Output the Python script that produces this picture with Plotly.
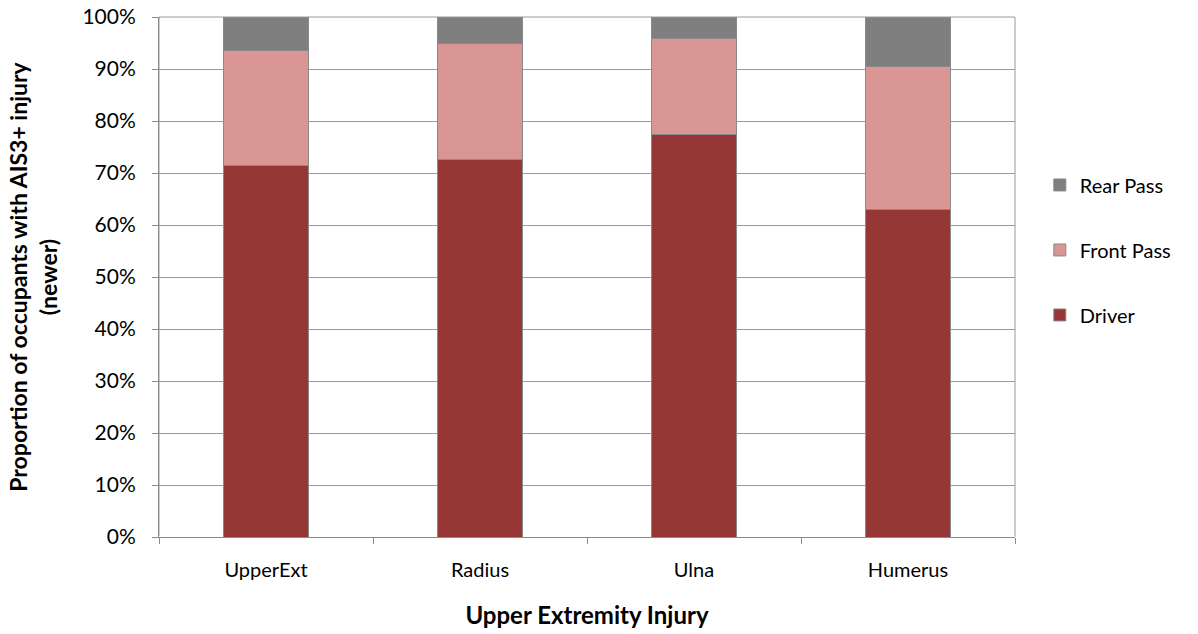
import plotly.graph_objects as go

categories = ["UpperExt", "Radius", "Ulna", "Humerus"]
driver = [71.4, 72.6, 77.5, 62.9]
front_pass = [22.1, 22.3, 18.4, 27.6]
rear_pass = [6.5, 5.1, 4.1, 9.5]
y_ticks = [0, 10, 20, 30, 40, 50, 60, 70, 80, 90, 100]
y_tick_labels = [f"{v}%" for v in y_ticks]

FONT = "Lato, 'Open Sans', sans-serif"
line = dict(color="#8a8a8a", width=1)

fig = go.Figure()
fig.add_trace(go.Bar(name="Driver", x=categories, y=driver, marker=dict(color="#953735", line=line),
                     legendgroup="a", legendrank=3))
fig.add_trace(go.Bar(name="Front Pass", x=categories, y=front_pass, marker=dict(color="#d99694", line=line),
                     legendgroup="b", legendrank=2))
fig.add_trace(go.Bar(name="Rear Pass", x=categories, y=rear_pass, marker=dict(color="#7f7f7f", line=line),
                     legendgroup="c", legendrank=1))

fig.update_layout(
    barmode="stack",
    bargap=0.6,
    width=1198, height=634,
    margin=dict(l=159, r=183, t=17, b=97, autoexpand=False),
    plot_bgcolor="white", paper_bgcolor="white",
    font=dict(family=FONT, size=20, color="black"),
    legend=dict(traceorder="grouped", x=1.029, y=0.552, yanchor="middle", xanchor="left",
                tracegroupgap=36, font=dict(size=20), itemwidth=30),
    xaxis=dict(title=dict(text="<b>Upper Extremity Injury</b>", font=dict(size=24), standoff=27),
               automargin=False,
               showline=True, linecolor="#8a8a8a", linewidth=1, mirror=False,
               ticks="outside", tickson="boundaries", ticklen=6, tickcolor="#8a8a8a",
               tickfont=dict(size=20), ticklabelstandoff=15),
    yaxis=dict(title=dict(text="<b>Proportion of occupants with AIS3+ injury<br>(newer)</b>", font=dict(size=23), standoff=18),
               automargin=False,
               range=[0, 100], tickvals=y_ticks, ticktext=y_tick_labels,
               showgrid=True, gridcolor="#9a9a9a", gridwidth=1,
               showline=True, linecolor="#8a8a8a", linewidth=1,
               ticks="outside", ticklen=6, tickcolor="#8a8a8a", tickfont=dict(size=21),
               ticklabelstandoff=12),
)
fig.add_shape(type="rect", xref="paper", yref="paper", x0=0, y0=0, x1=1, y1=1,
              line=dict(color="#9a9a9a", width=1), layer="below")

fig.write_html("out.html", config={"displayModeBar": False},
               post_script="document.body.style.margin='0';")
